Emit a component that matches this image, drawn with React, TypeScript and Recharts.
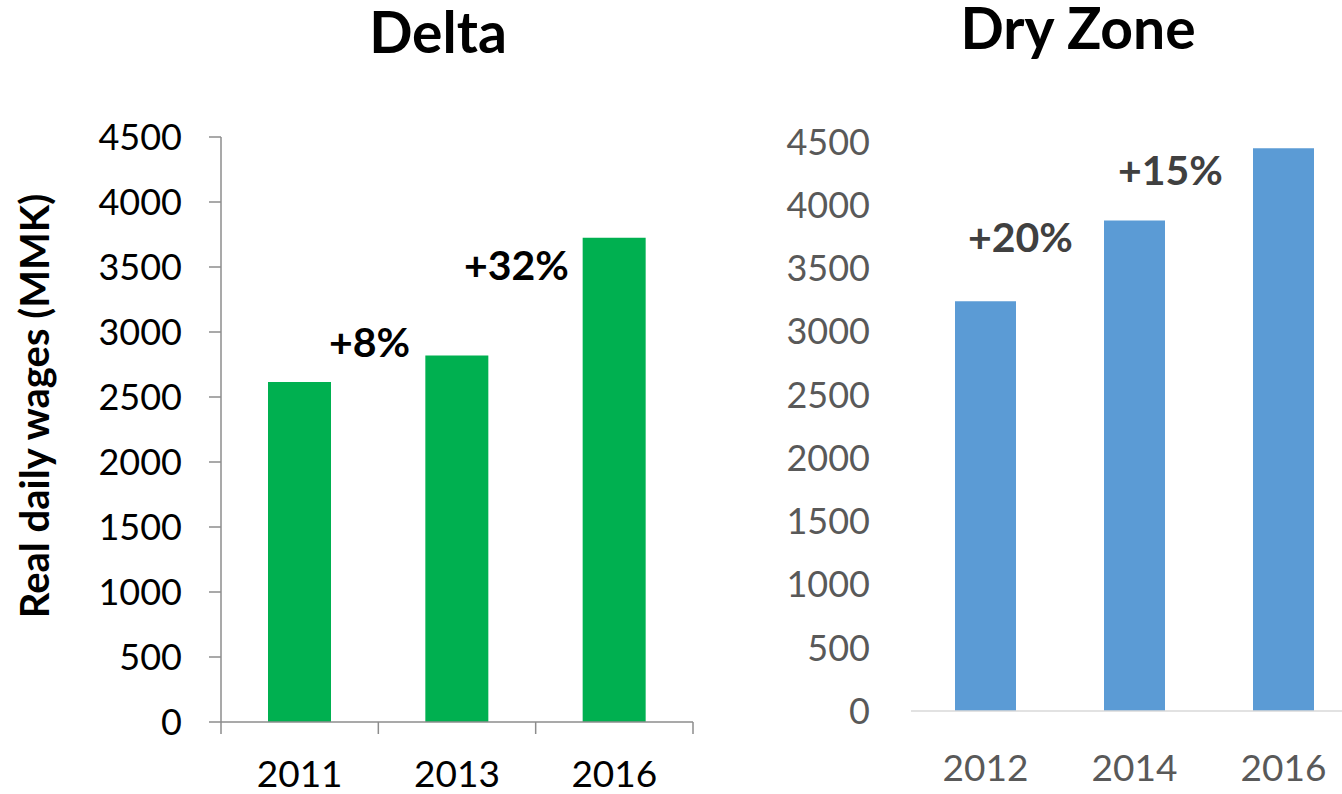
import React from "react";
import { BarChart, Bar, XAxis, YAxis } from "recharts";

// Delta region
const deltaYears = ["2011", "2013", "2016"];
const deltaWages = [2615, 2820, 3725];
const deltaChanges = ["+8%", "+32%"];

// Dry Zone region
const dryYears = ["2012", "2014", "2016"];
const dryWages = [3240, 3880, 4450];
const dryChanges = ["+20%", "+15%"];

const wageTicks = [0, 500, 1000, 1500, 2000, 2500, 3000, 3500, 4000, 4500];

const FONT = "Lato, 'Open Sans', sans-serif";
const AXIS_GRAY = "#8c8c8c";

const deltaData = deltaYears.map((year, i) => ({ year, wage: deltaWages[i] }));
const dryData = dryYears.map((year, i) => ({ year, wage: dryWages[i] }));

// tick size / margin of the Delta category axis
const DELTA_TICK = 12;
const DELTA_MARGIN = 27;

/**
 * Category tick for the Delta chart: label in the middle of the band,
 * tick marks on the band edges (as in the original spreadsheet chart).
 */
function DeltaTick(props: any) {
  const { x, y, payload, index, visibleTicksCount, width } = props;
  const band = (width || 472) / (visibleTicksCount || 3);
  const top = y - DELTA_TICK - DELTA_MARGIN;
  return (
    <g>
      <line x1={x - band / 2} y1={top} x2={x - band / 2} y2={top + DELTA_TICK} stroke={AXIS_GRAY} strokeWidth={1.5} />
      {index === visibleTicksCount - 1 && (
        <line x1={x + band / 2} y1={top} x2={x + band / 2} y2={top + DELTA_TICK} stroke={AXIS_GRAY} strokeWidth={1.5} />
      )}
      <text x={x} y={y} dy="0.71em" textAnchor="middle" fill="#000" fontSize={37} fontFamily={FONT}>
        {payload.value}
      </text>
    </g>
  );
}

export default function App() {
  return (
    <div
      style={{
        position: "absolute",
        left: 0,
        top: 0,
        width: 1342,
        height: 794,
        overflow: "hidden",
        background: "#fff",
        fontFamily: FONT,
      }}
    >
      {/* Delta */}
      <div style={{ position: "absolute", left: 0, top: 0 }}>
        <BarChart width={700} height={794} data={deltaData} margin={{ top: 137, right: 7, bottom: 0, left: 0 }}>
          <XAxis
            dataKey="year"
            height={72}
            tickLine={false}
            tickSize={DELTA_TICK}
            tickMargin={DELTA_MARGIN}
            axisLine={{ stroke: AXIS_GRAY, strokeWidth: 1.5 }}
            tick={<DeltaTick />}
            interval={0}
          />
          <YAxis
            width={221}
            domain={[0, 4500]}
            ticks={wageTicks}
            interval={0}
            tickSize={12}
            tickMargin={27}
            axisLine={{ stroke: AXIS_GRAY, strokeWidth: 1.5 }}
            tickLine={{ stroke: AXIS_GRAY, strokeWidth: 1.5 }}
            tick={{ fill: "#000", fontSize: 36, fontFamily: FONT }}
          />
          <Bar dataKey="wage" fill="#00B050" barSize={63} isAnimationActive={false} />
        </BarChart>
      </div>

      {/* Dry Zone */}
      <div style={{ position: "absolute", left: 761, top: 0 }}>
        <BarChart width={597} height={794} data={dryData} margin={{ top: 142, right: 0, bottom: 0, left: 0 }}>
          <XAxis
            dataKey="year"
            height={83}
            tickLine={false}
            tickSize={0}
            tickMargin={44}
            axisLine={{ stroke: "#d9d9d9", strokeWidth: 1.5 }}
            tick={{ fill: "#595959", fontSize: 37, fontFamily: FONT }}
            interval={0}
          />
          <YAxis
            width={150}
            domain={[0, 4500]}
            ticks={wageTicks}
            interval={0}
            tickSize={0}
            tickMargin={41}
            axisLine={false}
            tickLine={false}
            tick={{ fill: "#595959", fontSize: 36, fontFamily: FONT }}
          />
          <Bar dataKey="wage" fill="#5B9BD5" barSize={61} isAnimationActive={false} />
        </BarChart>
      </div>

      {/* titles, axis title and growth annotations */}
      <svg width={1342} height={794} style={{ position: "absolute", left: 0, top: 0, pointerEvents: "none" }}>
        <text x={438} y={53} textAnchor="middle" fontSize={57} fontWeight={700} fill="#000" fontFamily={FONT}>
          Delta
        </text>
        <text x={1078} y={49} textAnchor="middle" fontSize={57} fontWeight={700} fill="#000" fontFamily={FONT}>
          Dry Zone
        </text>
        <text
          x={49}
          y={406}
          transform="rotate(-90 49 406)"
          textAnchor="middle"
          fontSize={40}
          fontWeight={700}
          fill="#000"
          fontFamily={FONT}
        >
          Real daily wages (MMK)
        </text>
        <text x={329} y={357} fontSize={41} fontWeight={700} fill="#000" fontFamily={FONT}>
          {deltaChanges[0]}
        </text>
        <text x={464} y={280} fontSize={41} fontWeight={700} fill="#000" fontFamily={FONT}>
          {deltaChanges[1]}
        </text>
        <text x={968} y={252} fontSize={41} fontWeight={700} fill="#404040" fontFamily={FONT}>
          {dryChanges[0]}
        </text>
        <text x={1118} y={185} fontSize={41} fontWeight={700} fill="#404040" fontFamily={FONT}>
          {dryChanges[1]}
        </text>
      </svg>
    </div>
  );
}
